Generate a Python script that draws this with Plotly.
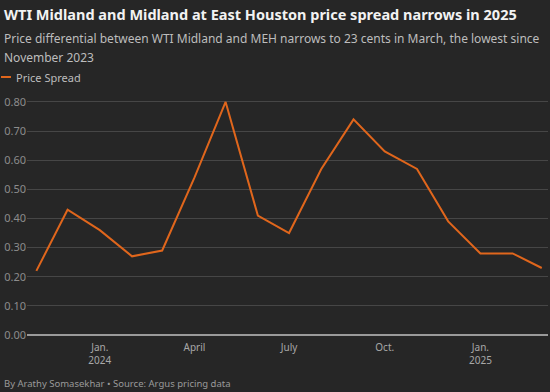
import plotly.graph_objects as go

months = ["2023-11-01", "2023-12-01", "2024-01-01", "2024-02-01", "2024-03-01",
          "2024-04-01", "2024-05-01", "2024-06-01", "2024-07-01", "2024-08-01",
          "2024-09-01", "2024-10-01", "2024-11-01", "2024-12-01", "2025-01-01",
          "2025-02-01", "2025-03-01"]
spread = [0.22, 0.43, 0.36, 0.27, 0.29, 0.54, 0.80, 0.41, 0.35, 0.57,
          0.74, 0.63, 0.57, 0.39, 0.28, 0.28, 0.23]
series_name = "Price Spread"
tick_dates = ["2024-01-01", "2024-04-01", "2024-07-01", "2024-10-01", "2025-01-01"]
tick_labels = ["Jan.<br>2024", "April", "July", "Oct.", "Jan.<br>2025"]
y_ticks = [0, 0.1, 0.2, 0.3, 0.4, 0.5, 0.6, 0.7, 0.8]

title = "WTI Midland and Midland at East Houston price spread narrows in 2025"
subtitle1 = "Price differential between WTI Midland and MEH narrows to 23 cents in March, the lowest since"
subtitle2 = "November 2023"
footer = "By Arathy Somasekhar \u2022 Source: Argus pricing data"

BG = "#262626"
ORANGE = "#e0661c"
FONT = "Noto Sans"

W, H = 550, 392
L, R, T, B = 27, 2, 99, 57
ph = H - T - B
pw = W - L - R

def py(pix):
    return (H - B - pix) / ph

def px(pix):
    return (pix - L) / pw

fig = go.Figure()
fig.add_trace(go.Scatter(x=months, y=spread, mode="lines", name=series_name,
                         line=dict(color=ORANGE, width=2), showlegend=False,
                         hoverinfo="skip"))

fig.update_layout(
    width=W, height=H,
    paper_bgcolor=BG, plot_bgcolor=BG,
    margin=dict(l=L, r=R, t=T, b=B),
    font=dict(family=FONT, color="#a0a0a0"),
    xaxis=dict(range=["2023-10-23", "2025-03-07"], tickvals=tick_dates, ticktext=tick_labels,
               showgrid=False, zeroline=False, showline=False, ticks="",
               ticklabelstandoff=5,
               tickfont=dict(size=10, color="#a8a8a8")),
    yaxis=dict(range=[0, 0.81], tickvals=y_ticks, tickformat=".2f",
               showgrid=True, gridcolor="#464646", gridwidth=1,
               zeroline=True, zerolinecolor="#9a9a9a", zerolinewidth=2,
               ticks="", tickfont=dict(size=11, color="#8c8c8c")),
)

annots = [
    dict(text="<b>" + title + "</b>", x=px(2), y=py(14), font=dict(size=14.5, color="#f2f2f2")),
    dict(text=subtitle1, x=px(2), y=py(38), font=dict(size=12, color="#bdbdbd")),
    dict(text=subtitle2, x=px(2), y=py(57), font=dict(size=12, color="#bdbdbd")),
    dict(text=series_name, x=px(14), y=py(77), font=dict(size=11, color="#bdbdbd")),
    dict(text=footer, x=px(2), y=py(383), font=dict(size=9.5, color="#9a9a9a")),
]
for a in annots:
    fig.add_annotation(xref="paper", yref="paper", xanchor="left", yanchor="middle",
                       showarrow=False, **a)

fig.add_shape(type="line", xref="paper", yref="paper", x0=px(1), x1=px(11), y0=py(77), y1=py(77),
              line=dict(color=ORANGE, width=2))

fig.write_html("out.html", config={"displayModeBar": False},
               post_script="document.body.style.margin='0';document.body.style.overflow='hidden';")
